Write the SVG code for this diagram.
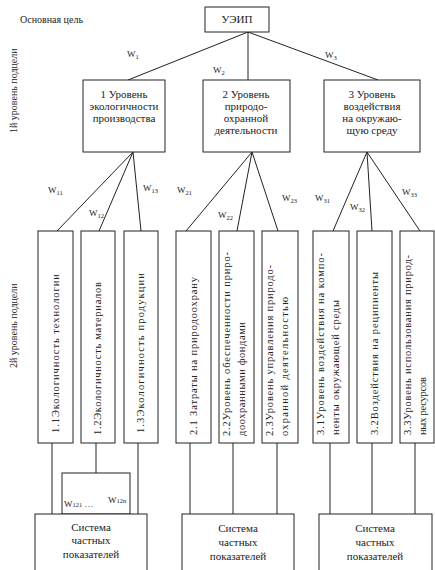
<svg xmlns="http://www.w3.org/2000/svg" width="435" height="570" viewBox="0 0 435 570" font-family="'Liberation Serif', 'Times New Roman', 'DejaVu Serif', serif">
<style>
.box{fill:#fff;stroke:#222;stroke-width:1}
.ln{stroke:#222;stroke-width:1;fill:none}
text{font-family:'Liberation Serif','Times New Roman','DejaVu Serif',serif;fill:#222}
.t1{font-size:11px;text-anchor:middle}
.w{font-size:9px}
.s{font-size:6.5px}
.v{font-size:10.5px}
.lab{font-size:10px}
</style>
<rect width="435" height="570" fill="#fff"/>
<text x="20" y="23" class="lab" font-size="11">Основная цель</text>
<text class="lab" transform="translate(17,133) rotate(-90)">1й уровень подцели</text>
<text class="lab" transform="translate(17,368) rotate(-90)">2й уровень подцели</text>

<g id="connectors">
<line class="ln" x1="248" y1="32" x2="128" y2="80"/>
<line class="ln" x1="248" y1="32" x2="248" y2="80"/>
<line class="ln" x1="248" y1="32" x2="378" y2="80"/>
<line class="ln" x1="133" y1="152" x2="57" y2="231"/>
<line class="ln" x1="133" y1="152" x2="99" y2="231"/>
<line class="ln" x1="133" y1="152" x2="141" y2="231"/>
<line class="ln" x1="252" y1="152" x2="186" y2="231"/>
<line class="ln" x1="252" y1="152" x2="237" y2="231"/>
<line class="ln" x1="252" y1="152" x2="278" y2="231"/>
<line class="ln" x1="367" y1="152" x2="333" y2="231"/>
<line class="ln" x1="367" y1="152" x2="372" y2="231"/>
<line class="ln" x1="367" y1="152" x2="420" y2="231"/>
<line class="ln" x1="52" y1="443" x2="52" y2="514"/>
<line class="ln" x1="96" y1="443" x2="96" y2="473"/>
<line class="ln" x1="138" y1="443" x2="138" y2="514"/>
<line class="ln" x1="190" y1="443" x2="190" y2="514"/>
<line class="ln" x1="233" y1="443" x2="233" y2="514"/>
<line class="ln" x1="277" y1="443" x2="277" y2="514"/>
<line class="ln" x1="330" y1="443" x2="330" y2="514"/>
<line class="ln" x1="372" y1="443" x2="372" y2="514"/>
<line class="ln" x1="415" y1="443" x2="415" y2="514"/>
<text class="w" x="127" y="57">W<tspan class="s" dy="2">1</tspan></text>
<text class="w" x="213" y="73">W<tspan class="s" dy="2">2</tspan></text>
<text class="w" x="325" y="58">W<tspan class="s" dy="2">3</tspan></text>
<text class="w" x="48" y="193">W<tspan class="s" dy="2">11</tspan></text>
<text class="w" x="89" y="216">W<tspan class="s" dy="2">12</tspan></text>
<text class="w" x="143" y="191">W<tspan class="s" dy="2">13</tspan></text>
<text class="w" x="177" y="193">W<tspan class="s" dy="2">21</tspan></text>
<text class="w" x="218" y="218">W<tspan class="s" dy="2">22</tspan></text>
<text class="w" x="282" y="201">W<tspan class="s" dy="2">23</tspan></text>
<text class="w" x="315" y="201">W<tspan class="s" dy="2">31</tspan></text>
<text class="w" x="350" y="210">W<tspan class="s" dy="2">32</tspan></text>
<text class="w" x="402" y="195">W<tspan class="s" dy="2">33</tspan></text>
</g>

<g id="root"><rect class="box" x="205" y="7" width="64" height="25"/><text class="t1" x="237" y="23">УЭИП</text></g>

<g id="n1"><rect class="box" x="83" y="80" width="82" height="72"/>
<text class="t1" x="124" y="98">1 Уровень</text><text class="t1" x="124" y="110">экологичности</text><text class="t1" x="124" y="122">производства</text></g>
<g id="n2"><rect class="box" x="203" y="80" width="87" height="72"/>
<text class="t1" x="246" y="98">2 Уровень</text><text class="t1" x="246" y="110">природо-</text><text class="t1" x="246" y="122">охранной</text><text class="t1" x="246" y="134">деятельности</text></g>
<g id="n3"><rect class="box" x="324" y="80" width="96" height="72"/>
<text class="t1" x="372" y="98">3 Уровень</text><text class="t1" x="372" y="110">воздействия</text><text class="t1" x="372" y="122">на окружаю-</text><text class="t1" x="372" y="134">щую среду</text></g>

<g id="n11"><rect class="box" x="38" y="231" width="35" height="212"/>
<text class="v" transform="translate(59,433) rotate(-90)" textLength="159" lengthAdjust="spacing">1.1Экологичность технологии</text></g>
<g id="n12"><rect class="box" x="81" y="231" width="34" height="212"/>
<text class="v" transform="translate(101,435) rotate(-90)" textLength="153" lengthAdjust="spacing">1.2Экологичность материалов</text></g>
<g id="n13"><rect class="box" x="124" y="231" width="34" height="212"/>
<text class="v" transform="translate(144,433) rotate(-90)" textLength="160" lengthAdjust="spacing">1.3Экологичность продукции</text></g>

<g id="n21"><rect class="box" x="176" y="231" width="35" height="212"/>
<text class="v" transform="translate(197,435) rotate(-90)" textLength="158" lengthAdjust="spacing">2.1 Затраты на природоохрану</text></g>
<g id="n22"><rect class="box" x="219" y="231" width="35" height="212"/>
<text class="v" transform="translate(230,436) rotate(-90)" textLength="184" lengthAdjust="spacing">2.2Уровень обеспеченности приро-</text>
<text class="v" transform="translate(245,436) rotate(-90)" textLength="114" lengthAdjust="spacing">доохранными фондами</text></g>
<g id="n23"><rect class="box" x="262" y="231" width="36" height="212"/>
<text class="v" transform="translate(273,436) rotate(-90)" textLength="171" lengthAdjust="spacing">2.3Уровень управления природо-</text>
<text class="v" transform="translate(288,436) rotate(-90)" textLength="139" lengthAdjust="spacing">охранной деятельностью</text></g>

<g id="n31"><rect class="box" x="313" y="231" width="36" height="212"/>
<text class="v" transform="translate(324,435) rotate(-90)" textLength="182" lengthAdjust="spacing">3.1Уровень воздействия на компо-</text>
<text class="v" transform="translate(339,435) rotate(-90)" textLength="135" lengthAdjust="spacing">ненты окружающей среды</text></g>
<g id="n32"><rect class="box" x="357" y="231" width="35" height="212"/>
<text class="v" transform="translate(378,435) rotate(-90)" textLength="163" lengthAdjust="spacing">3.2Воздействия на реципиенты</text></g>
<g id="n33"><rect class="box" x="400" y="231" width="34" height="212"/>
<text class="v" transform="translate(411,435) rotate(-90)" textLength="180" lengthAdjust="spacing">3.3Уровень использования природ-</text>
<text class="v" transform="translate(426,435) rotate(-90)" textLength="58" lengthAdjust="spacing">ных ресурсов</text></g>

<g id="w12n"><rect class="box" x="62" y="473" width="68" height="41"/>
<text class="w" x="64" y="507">W<tspan class="s">121</tspan> …</text>
<text class="w" x="108" y="503">W<tspan class="s">12n</tspan></text></g>

<g id="s1"><rect class="box" x="35" y="514" width="112" height="70"/>
<text class="t1" x="91" y="531">Система</text><text class="t1" x="91" y="544">частных</text><text class="t1" x="91" y="558">показателей</text></g>
<g id="s2"><rect class="box" x="182" y="514" width="112" height="70"/>
<text class="t1" x="238" y="532">Система</text><text class="t1" x="238" y="546">частных</text><text class="t1" x="238" y="560">показателей</text></g>
<g id="s3"><rect class="box" x="319" y="514" width="113" height="70"/>
<text class="t1" x="375" y="532">Система</text><text class="t1" x="375" y="546">частных</text><text class="t1" x="375" y="560">показателей</text></g>
</svg>
